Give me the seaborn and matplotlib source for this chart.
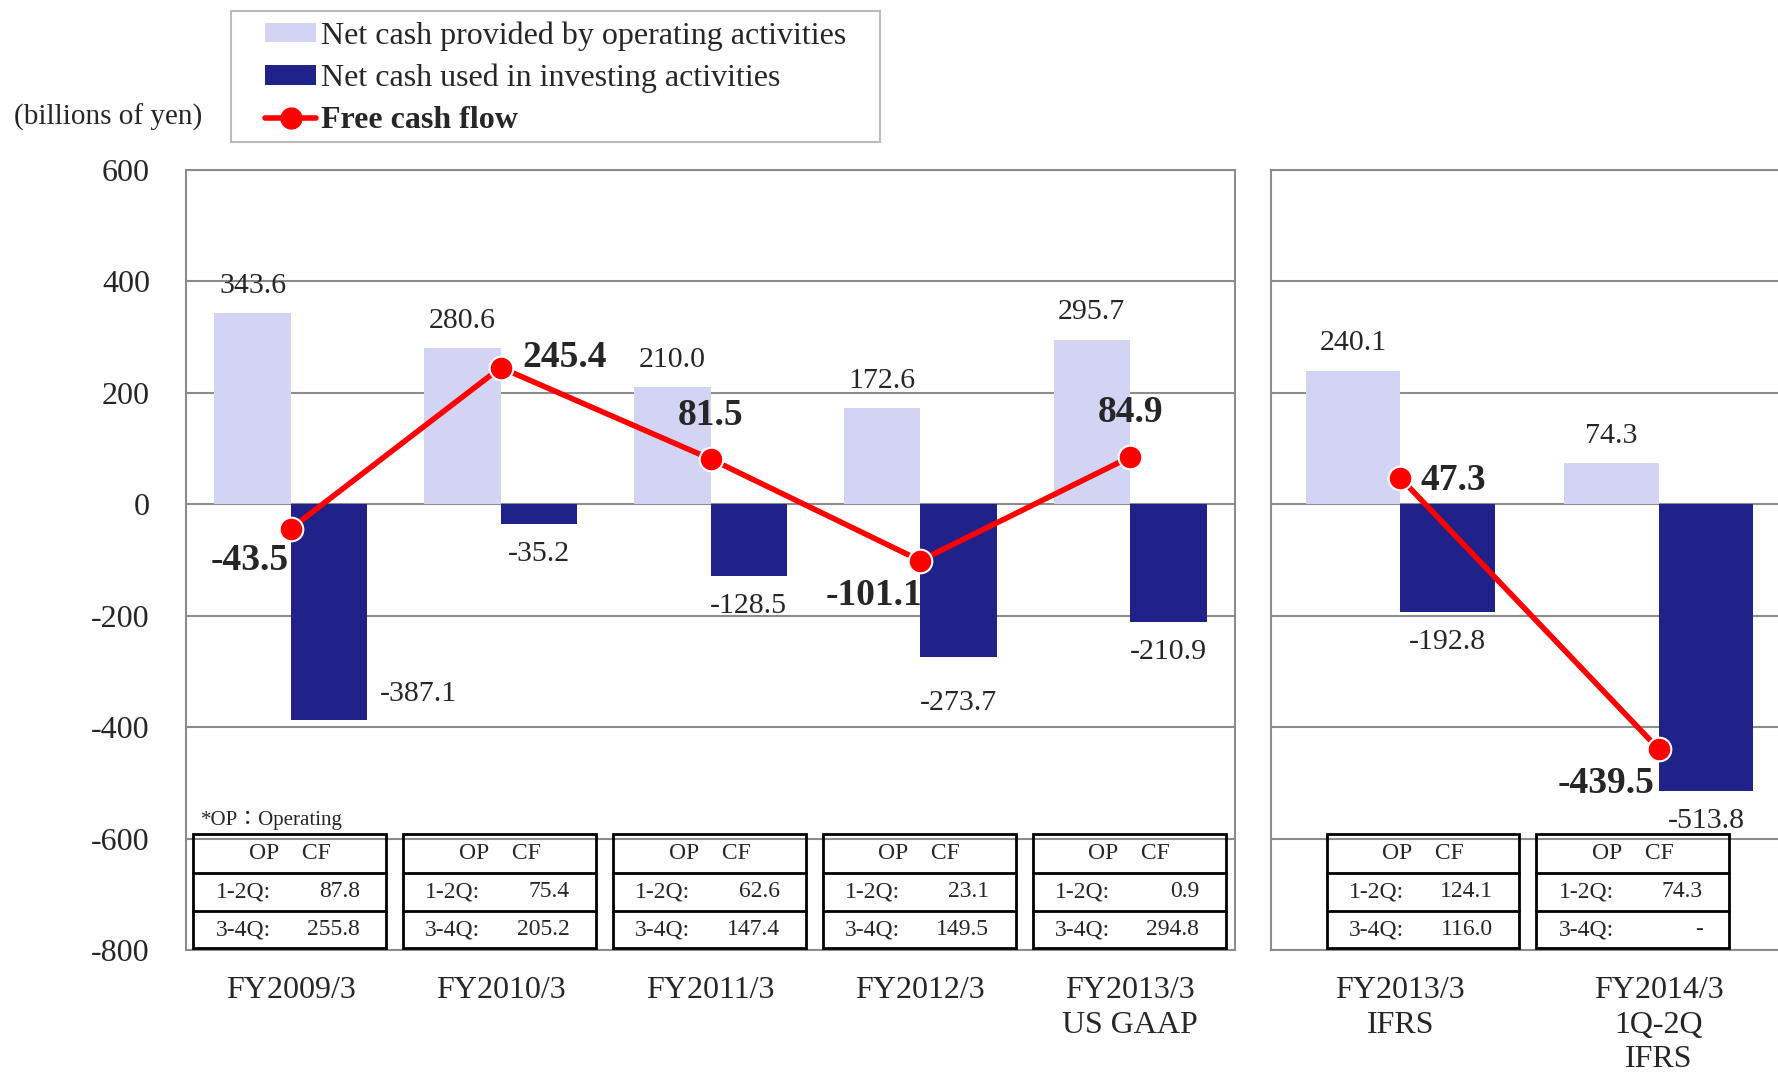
import numpy as np
import pandas as pd
import seaborn as sns
import matplotlib.pyplot as plt
from matplotlib.patches import Patch, Rectangle
from matplotlib.lines import Line2D

# --- data (billions of yen) ---
left_cats = ["FY2009/3", "FY2010/3", "FY2011/3", "FY2012/3", "FY2013/3\nUS GAAP"]
left_op = [343.6, 280.6, 210.0, 172.6, 295.7]
left_inv = [-387.1, -35.2, -128.5, -273.7, -210.9]
left_fcf = [-43.5, 245.4, 81.5, -101.1, 84.9]
left_q12 = ["87.8", "75.4", "62.6", "23.1", "0.9"]
left_q34 = ["255.8", "205.2", "147.4", "149.5", "294.8"]

right_cats = ["FY2013/3\nIFRS", "FY2014/3\n1Q-2Q\nIFRS"]
right_op = [240.1, 74.3]
right_inv = [-192.8, -513.8]
right_fcf = [47.3, -439.5]
right_q12 = ["124.1", "74.3"]
right_q34 = ["116.0", "-"]

op_name = "Net cash provided by operating activities"
inv_name = "Net cash used in investing activities"
fcf_name = "Free cash flow"

# --- styling ---
LIGHT = "#d3d3f3"
DARK = "#21218a"
RED = "#ff0000"
GRID = "#8c8c8c"

sns.set_theme(style="white")
plt.rcParams["font.family"] = ["Liberation Serif", "Noto Sans CJK JP"]
plt.rcParams["axes.unicode_minus"] = False

W, H = 1778, 1075
fig = plt.figure(figsize=(W / 100, H / 100), dpi=100)
ax_l = fig.add_axes([186 / W, 1 - 950 / H, 1049 / W, 780 / H])
ax_r = fig.add_axes([1271 / W, 1 - 950 / H, 517 / W, 780 / H])

# label offsets in points (styling only)
left_inv_off = [(64, 19), (0, -22), (0, -22), (0, -33), (0, -22)]
left_fcf_off = [(-30, -23), (46, 7), (0, 31), (-33, -25), (0, 32)]
right_inv_off = [(0, -22), (0, -22)]
right_fcf_off = [(38, -2), (-38, -25)]
# table extents relative to category centre (data units)
left_tbl_x = [(-0.465, 0.455)] * 5
right_tbl_x = [(-0.285, 0.46), (-0.474, 0.272)]


def draw_table(ax, x0, x1, q12, q34):
    ys = [-592, -661, -730, -797]
    ax.add_patch(Rectangle((x0, ys[3]), x1 - x0, ys[0] - ys[3], fill=False,
                           ec="black", lw=2, zorder=4))
    for yy in ys[1:3]:
        ax.plot([x0, x1], [yy, yy], color="black", lw=2, zorder=4)
    ax.text((x0 + x1) / 2, (ys[0] + ys[1]) / 2, "OP    CF", ha="center",
            va="center", fontsize=17, zorder=5)
    for (ya, yb), lab, val in [((ys[1], ys[2]), "1-2Q:", q12),
                               ((ys[2], ys[3]), "3-4Q:", q34)]:
        ym = (ya + yb) / 2
        ax.annotate(lab, (x0, ym), xytext=(16, 0), textcoords="offset points",
                    ha="left", va="center", fontsize=17, zorder=5)
        ax.annotate(val, (x1, ym), xytext=(-19, 0), textcoords="offset points",
                    ha="right", va="center", fontsize=17, zorder=5)


def panel(ax, cats, op, inv, fcf, q12, q34, inv_off, fcf_off, tbl_x):
    n = len(cats)
    df = pd.DataFrame({
        "cat": cats * 2,
        "series": [op_name] * n + [inv_name] * n,
        "value": op + inv,
    })
    sns.barplot(data=df, x="cat", y="value", hue="series", order=cats,
                hue_order=[op_name, inv_name], palette=[LIGHT, DARK],
                saturation=1, width=0.73, errorbar=None, linewidth=0,
                legend=False, ax=ax)
    xs = np.arange(n)
    sns.lineplot(x=xs, y=fcf, ax=ax, color=RED, lw=4, marker="o",
                 markersize=17, markeredgecolor="white", markeredgewidth=1.5,
                 sort=False, legend=False, zorder=3)

    for i in range(n):
        ax.annotate(f"{op[i]:.1f}", (i - 0.1825, op[i]), xytext=(0, 19.6),
                    textcoords="offset points", ha="center", va="center",
                    fontsize=21.5)
        ax.annotate(f"{inv[i]:.1f}", (i + 0.1825, inv[i]), xytext=inv_off[i],
                    textcoords="offset points", ha="center", va="center",
                    fontsize=21.5)
        ax.annotate(f"{fcf[i]:.1f}", (i, fcf[i]), xytext=fcf_off[i],
                    textcoords="offset points", ha="center", va="center",
                    fontsize=27, fontweight="bold", zorder=6)
        draw_table(ax, i + tbl_x[i][0], i + tbl_x[i][1], q12[i], q34[i])

    ax.set_xlim(-0.5, n - 0.5)
    ax.set_ylim(-800, 600)
    ax.set_yticks(np.arange(-800, 601, 200))
    ax.set_xticks(xs)
    ax.set_xticklabels(cats, fontsize=23, linespacing=1.25)
    ax.set_xlabel("")
    ax.set_ylabel("")
    ax.set_axisbelow(True)
    ax.yaxis.grid(True, color=GRID, lw=1.5)
    ax.xaxis.grid(False)
    ax.tick_params(axis="x", length=0, pad=19)
    ax.tick_params(axis="y", length=0, pad=26, labelsize=23)
    for sp in ax.spines.values():
        sp.set_color(GRID)
        sp.set_linewidth(1.5)


panel(ax_l, left_cats, left_op, left_inv, left_fcf, left_q12, left_q34,
      left_inv_off, left_fcf_off, left_tbl_x)
panel(ax_r, right_cats, right_op, right_inv, right_fcf, right_q12, right_q34,
      right_inv_off, right_fcf_off, right_tbl_x)
ax_r.set_yticklabels([])

ax_l.text(-0.427, -567, "*OP：Operating", ha="left", va="center", fontsize=15)

fig.text(14 / W, 1 - 117 / H, "(billions of yen)", ha="left",
         va="center", fontsize=21)

# legend frame drawn separately to get the wide side padding
fig.patches.append(Rectangle((231 / W, 1 - 142 / H), 649 / W, 131 / H,
                             transform=fig.transFigure, fill=False,
                             ec="#bbbbbb", lw=1.5))
handles = [
    Patch(facecolor=LIGHT, edgecolor="none"),
    Patch(facecolor=DARK, edgecolor="none"),
    Line2D([0], [0], color=RED, lw=4, marker="o", markersize=15,
           markeredgecolor=RED),
]
leg = fig.legend(handles, [op_name, inv_name, fcf_name], loc="upper left",
                 bbox_to_anchor=(265 / W, 1 - 21.5 / H), fontsize=23,
                 frameon=False, handlelength=1.6, handleheight=0.55,
                 handletextpad=0.15, borderpad=0, labelspacing=0.4,
                 borderaxespad=0)
leg.get_texts()[2].set_fontweight("bold")

fig.savefig("out.png", dpi=100)
